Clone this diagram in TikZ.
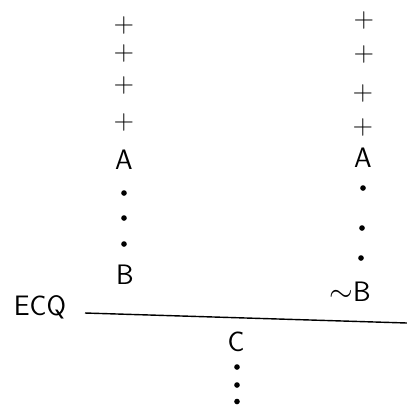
\documentclass[tikz,border=0pt]{standalone}
\usepackage{tikz}

\begin{document}
\begin{tikzpicture}[every node/.style={font=\fontsize{16}{18}\selectfont\sffamily},
  dot/.style={circle, fill=black, inner sep=0pt, minimum size=3.2pt}]
  \useasboundingbox (0,0) rectangle (8.14,-8.10);
  % left branch
  \node (lp1) at (2.48,-0.50) {+};
  \node (lp2) at (2.48,-1.06) {+};
  \node (lp3) at (2.48,-1.70) {+};
  \node (lp4) at (2.48,-2.44) {+};
  \node (la) at (2.48,-3.20) {A};
  \node[dot] (ld1) at (2.48,-3.86) {};
  \node[dot] (ld2) at (2.48,-4.36) {};
  \node[dot] (ld3) at (2.48,-4.88) {};
  \node (lb) at (2.50,-5.50) {B};
  % right branch
  \node (rp1) at (7.28,-0.40) {+};
  \node (rp2) at (7.28,-1.08) {+};
  \node (rp3) at (7.26,-1.86) {+};
  \node (rp4) at (7.26,-2.54) {+};
  \node (ra) at (7.26,-3.16) {A};
  \node[dot] (rd1) at (7.26,-3.76) {};
  \node[dot] (rd2) at (7.24,-4.56) {};
  \node[dot] (rd3) at (7.22,-5.16) {};
  \node (rb) at (7.00,-5.84) {$\sim$B};
  % rule
  \node (ecq) at (0.80,-6.14) {ECQ};
  \coordinate (rstart) at (1.70,-6.26);
  \coordinate (rend) at (8.14,-6.46);
  \draw[thick] (rstart) -- (rend);
  \node (c) at (4.72,-6.84) {C};
  \node[dot] (cd1) at (4.74,-7.34) {};
  \node[dot] (cd2) at (4.74,-7.70) {};
  \node[dot] (cd3) at (4.74,-8.03) {};
\end{tikzpicture}
\end{document}
